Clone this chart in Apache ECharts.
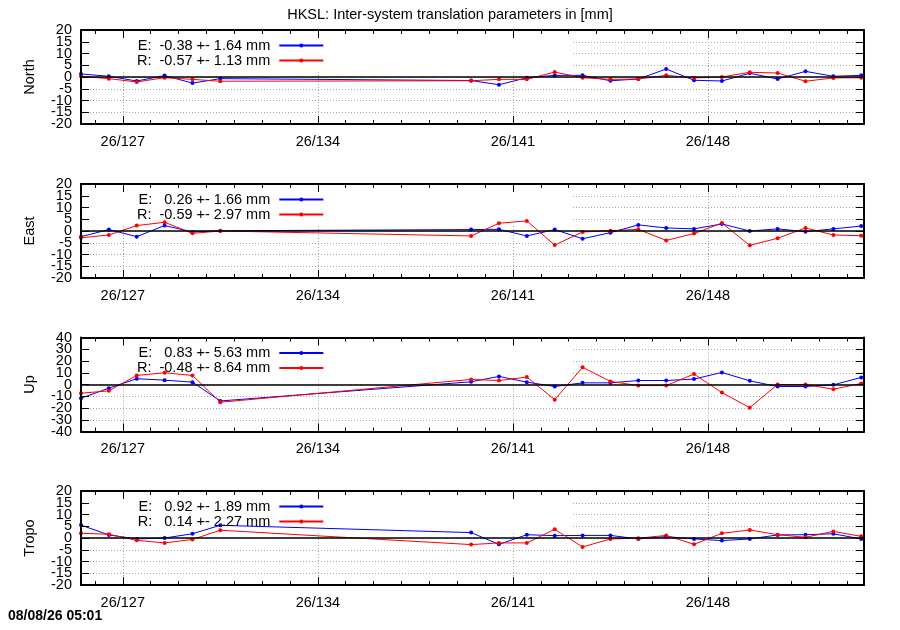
<!DOCTYPE html>
<html>
<head>
<meta charset="utf-8">
<script src="https://cdn.jsdelivr.net/npm/echarts@6/dist/echarts.min.js"></script>
<style>
  html, body { margin: 0; padding: 0; background: #fff; }
  #chart { width: 900px; height: 630px; }
</style>
</head>
<body>
<div id="chart"></div>
<script>
// day of year 2026 (noon epochs)
const days = [125.5, 126.5, 127.5, 128.5, 129.5, 130.5,
    139.5, 140.5, 141.5, 142.5, 143.5, 144.5, 145.5, 146.5, 147.5,
    148.5, 149.5, 150.5, 151.5, 152.5, 153.5];

const northE = [1.3, 0.3, -1.7, 0.6, -2.6, -0.7, -1.5, -3.3, -0.3, 0.7, 0.7, -1.6, -0.85, 3.4, -1.4, -1.7, 1.6, -0.85, 2.4, 0.3, 0.7];
const northR = [0.3, -0.7, -2.1, -0.3, -1.0, -1.8, -1.6, -1.0, -1.0, 2.1, -0.3, -1.0, -0.85, 0.7, -0.4, 0.0, 2.0, 1.7, -1.8, -0.4, -0.3];
const eastE = [-2.4, 0.6, -2.4, 2.3, -0.4, 0.1, 0.6, 0.7, -2.1, 0.6, -3.3, -0.7, 2.6, 1.3, 0.9, 3.0, 0.0, 0.9, -0.3, 0.9, 2.1];
const eastR = [-2.9, -1.7, 2.3, 3.7, -1.0, 0.0, -2.1, 3.3, 4.3, -6.0, -0.4, 0.1, 0.7, -4.0, -1.1, 3.4, -6.1, -3.1, 1.3, -1.7, -2.0];
const upE = [-11.7, -3.1, 4.9, 3.7, 2.0, -14.0, 2.3, 6.9, 2.0, -1.7, 1.4, 1.4, 3.4, 3.4, 4.6, 10.3, 3.1, -1.7, -1.7, -0.3, 6.0];
const upR = [-7.4, -5.4, 7.7, 10.0, 7.7, -15.1, 4.3, 3.4, 6.3, -12.9, 14.6, 2.6, -0.9, -0.9, 8.9, -6.9, -19.7, 0.0, 0.0, -4.0, 0.9];
const tropoE = [5.5, 1.3, -0.4, 0.0, 1.8, 5.4, 2.3, -2.7, 1.4, 1.0, 1.1, 1.1, -0.4, 0.6, -0.4, -1.1, -0.4, 1.3, 1.4, 1.8, -0.4];
const tropoR = [2.0, 1.6, -1.0, -2.1, -0.6, 3.3, -2.8, -2.1, -2.1, 3.7, -3.8, -0.4, -0.1, 1.1, -2.7, 2.0, 3.4, 1.4, 0.3, 2.8, 0.7];

const majorDays = [127, 134, 141, 148];
const minorDays = [];
for (let d = 126; d <= 153; d++) minorDays.push(d);
const yearPrefix = '26/';

const yTicks20 = [-20, -15, -10, -5, 0, 5, 10, 15, 20];
const yTicks40 = [-40, -30, -20, -10, 0, 10, 20, 30, 40];

const panels = [
    {name: 'North', e: northE, r: northR, ticks: yTicks20, top: 30,
        keyE: 'E:  -0.38 +- 1.64 mm', keyR: 'R:  -0.57 +- 1.13 mm'},
    {name: 'East', e: eastE, r: eastR, ticks: yTicks20, top: 184,
        keyE: 'E:   0.26 +- 1.66 mm', keyR: 'R:  -0.59 +- 2.97 mm'},
    {name: 'Up', e: upE, r: upR, ticks: yTicks40, top: 337.5,
        keyE: 'E:   0.83 +- 5.63 mm', keyR: 'R:  -0.48 +- 8.64 mm'},
    {name: 'Tropo', e: tropoE, r: tropoR, ticks: yTicks20, top: 491,
        keyE: 'E:   0.92 +- 1.89 mm', keyR: 'R:   0.14 +- 2.27 mm'}
];

const FONT = 'Liberation Sans';
const FS = 14.5;
const xMin = 125.5, xMax = 153.6;
const gLeft = 81, gWidth = 783, gHeight = 94;
const dotted = {color: '#a8a8a8', width: 1, type: [1, 2]};
const border = {color: '#000', width: 2};
const tickLine = {color: '#000', width: 1};
const labelFont = {color: '#000', fontFamily: FONT, fontSize: FS};

const grids = [], xAxes = [], yAxes = [], series = [], legends = [], graphics = [];

panels.forEach((p, k) => {
    grids.push({left: gLeft, top: p.top, width: gWidth, height: gHeight});

    const xb = {gridIndex: k, type: 'value', min: xMin, max: xMax, splitLine: {show: false},
        axisLabel: {show: false}};
    // vertical grid lines only
    xAxes.push(Object.assign({}, xb, {z: 0, position: 'bottom',
        axisLine: {show: false, onZero: false},
        axisTick: {show: false, customValues: majorDays},
        splitLine: {show: true, lineStyle: dotted}}));
    xAxes.push(Object.assign({}, xb, {z: 3, position: 'bottom',
        axisLine: {show: true, onZero: false, lineStyle: border},
        axisTick: {show: true, inside: true, length: 8, customValues: majorDays, lineStyle: tickLine},
        axisLabel: Object.assign({show: true, customValues: majorDays, margin: 10,
            formatter: v => yearPrefix + v}, labelFont)}));
    xAxes.push(Object.assign({}, xb, {z: 3, position: 'bottom',
        axisLine: {show: false, onZero: false},
        axisTick: {show: true, inside: true, length: 4, customValues: minorDays, lineStyle: tickLine}}));
    xAxes.push(Object.assign({}, xb, {z: 3, position: 'top',
        axisLine: {show: true, onZero: false, lineStyle: border},
        axisTick: {show: true, inside: true, length: 8, customValues: majorDays, lineStyle: tickLine}}));
    xAxes.push(Object.assign({}, xb, {z: 3, position: 'top',
        axisLine: {show: false, onZero: false},
        axisTick: {show: true, inside: true, length: 4, customValues: minorDays, lineStyle: tickLine}}));

    const lim = p.ticks[p.ticks.length - 1];
    const step = p.ticks[1] - p.ticks[0];
    const evenTicks = p.ticks.filter((v, i) => i % 2 === 0);
    const oddTicks = p.ticks.filter((v, i) => i % 2 === 1);
    const yb = {gridIndex: k, type: 'value', min: -lim, max: lim, interval: step,
        splitLine: {show: false}, axisLabel: {show: false}};
    yAxes.push(Object.assign({}, yb, {z: 0, position: 'left',
        axisLine: {show: false, onZero: false}, axisTick: {show: false},
        splitLine: {show: true, lineStyle: dotted}}));
    yAxes.push(Object.assign({}, yb, {z: 3, position: 'left',
        name: p.name, nameLocation: 'middle', nameGap: 44, nameRotate: 90,
        nameTextStyle: labelFont,
        axisLine: {show: true, onZero: false, lineStyle: border},
        axisTick: {show: true, inside: true, length: 8, lineStyle: tickLine},
        axisLabel: Object.assign({show: true, margin: 9, customValues: evenTicks,
            showMinLabel: true, showMaxLabel: true, hideOverlap: false}, labelFont)}));
    // in-between labels on their own axis, so none of them gets dropped
    yAxes.push(Object.assign({}, yb, {z: 3, position: 'left',
        axisLine: {show: false, onZero: false}, axisTick: {show: false},
        axisLabel: Object.assign({show: true, margin: 9, customValues: oddTicks,
            showMinLabel: true, showMaxLabel: true, hideOverlap: false}, labelFont)}));
    yAxes.push(Object.assign({}, yb, {z: 3, position: 'right',
        axisLine: {show: true, onZero: false, lineStyle: border},
        axisTick: {show: true, inside: true, length: 8, lineStyle: tickLine}}));

    const common = {type: 'line', xAxisIndex: k * 5, yAxisIndex: k * 4, symbol: 'circle',
        symbolSize: 4, showSymbol: true, z: 2, emphasis: {disabled: true}};
    series.push(Object.assign({}, common, {name: 'E',
        data: days.map((d, i) => [d, p.e[i]]),
        itemStyle: {color: '#0000ff'}, lineStyle: {color: '#0000ff', width: 1},
        markLine: {silent: true, symbol: 'none', label: {show: false},
            lineStyle: {color: '#000', width: 1.5, type: 'solid'},
            emphasis: {disabled: true}, data: [{yAxis: 0}]}}));
    series.push(Object.assign({}, common, {name: 'R',
        data: days.map((d, i) => [d, p.r[i]]),
        itemStyle: {color: '#ff0000'}, lineStyle: {color: '#ff0000', width: 1}}));

    const W = 160;
    legends.push({data: ['E', 'R'], orient: 'vertical', align: 'right', left: 274.3 - W,
        top: p.top + 8, padding: 0, itemGap: 0, itemWidth: 44, itemHeight: 5,
        selectedMode: false,
        formatter: name => '{a|' + (name === 'E' ? p.keyE : p.keyR) + ' }',
        textStyle: Object.assign({
            rich: {a: Object.assign({width: W, align: 'right', lineHeight: 15}, labelFont)}}, labelFont)});

    // opaque key box hides grid lines behind the key
    graphics.push({type: 'rect', z: 1, silent: true,
        shape: {x: gLeft + 1, y: p.top + 1, width: 573 - gLeft - 1, height: 39},
        style: {fill: '#fff'}});
});

const chart = echarts.init(document.getElementById('chart'));
chart.setOption({
    animation: false,
    backgroundColor: '#fff',
    title: [
        {text: 'HKSL: Inter-system translation parameters in [mm]', left: 'center', top: 7, padding: 0,
            textStyle: Object.assign({fontWeight: 'normal'}, labelFont)},
        {text: '08/08/26 05:01', left: 8, top: 609, padding: 0,
            textStyle: {color: '#000', fontFamily: FONT, fontSize: 14, fontWeight: 'bold'}}
    ],
    legend: legends,
    grid: grids,
    xAxis: xAxes,
    yAxis: yAxes,
    graphic: graphics,
    series: series
});
</script>
</body>
</html>
